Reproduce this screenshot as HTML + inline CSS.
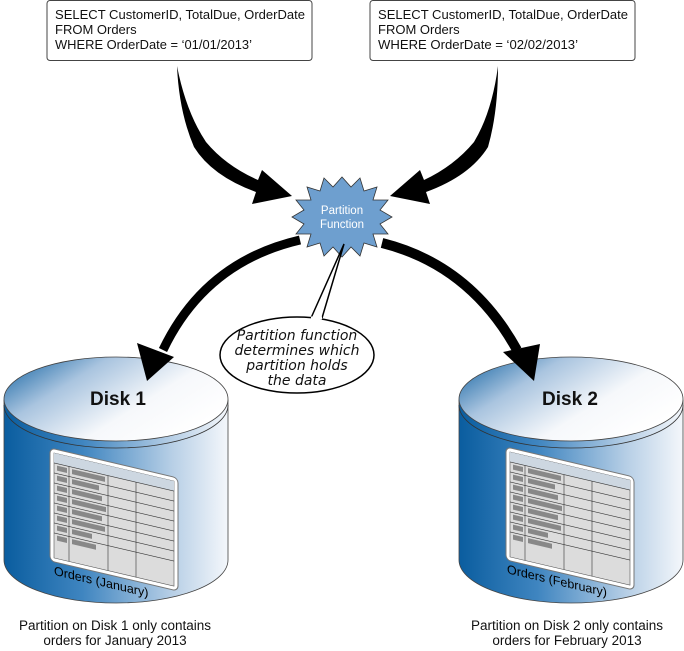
<!DOCTYPE html>
<html><head><meta charset="utf-8"><style>
html,body{margin:0;padding:0;background:#fff;}
svg{display:block;font-family:"Liberation Sans",sans-serif;}
</style></head><body>
<svg width="684" height="651" viewBox="0 0 684 651" xmlns="http://www.w3.org/2000/svg">
<defs>
<linearGradient id="body" x1="0" x2="1" y1="0" y2="0">
<stop offset="0" stop-color="#0a5d9f"/><stop offset="0.35" stop-color="#3f85c0"/><stop offset="0.75" stop-color="#b7cfe6"/><stop offset="1" stop-color="#f4f7fb"/>
</linearGradient>
<linearGradient id="top" x1="0" y1="0" x2="1" y2="0.6">
<stop offset="0" stop-color="#0b5e9f"/><stop offset="0.35" stop-color="#a9c4df"/><stop offset="0.7" stop-color="#f6f8fb"/><stop offset="1" stop-color="#ffffff"/>
</linearGradient>
<g id="table">
<rect x="0" y="0" width="128" height="113" rx="5" fill="#fff" stroke="#777" stroke-width="1"/>
<rect x="4" y="4" width="120" height="105" fill="#dcdcdc" stroke="#555" stroke-width="0.6"/>
<rect x="4" y="4" width="120" height="10" fill="#cdd7e1"/>
<g stroke="#333" stroke-width="0.6">
<line x1="4" y1="14" x2="124" y2="14"/>
<line x1="4" y1="24" x2="124" y2="24"/><line x1="4" y1="34" x2="124" y2="34"/>
<line x1="4" y1="44" x2="124" y2="44"/><line x1="4" y1="54" x2="124" y2="54"/>
<line x1="4" y1="64" x2="124" y2="64"/><line x1="4" y1="74" x2="124" y2="74"/>
<line x1="4" y1="84" x2="124" y2="84"/>
<line x1="19" y1="14" x2="19" y2="109"/><line x1="58" y1="14" x2="58" y2="109"/><line x1="86" y1="14" x2="86" y2="109"/>
</g>
<g fill="#888">
<rect x="7" y="16" width="10" height="5"/><rect x="22" y="16" width="33" height="5"/>
<rect x="7" y="26" width="10" height="5"/><rect x="22" y="26" width="27" height="5"/>
<rect x="7" y="36" width="10" height="5"/><rect x="22" y="36" width="30" height="5"/>
<rect x="7" y="46" width="10" height="5"/><rect x="22" y="46" width="34" height="5"/>
<rect x="7" y="56" width="10" height="5"/><rect x="22" y="56" width="30" height="5"/>
<rect x="7" y="66" width="10" height="5"/><rect x="22" y="66" width="33" height="5"/>
<rect x="7" y="76" width="10" height="5"/><rect x="22" y="76" width="20" height="5"/>
<rect x="7" y="86" width="10" height="5"/><rect x="22" y="86" width="24" height="5"/>
</g>
</g>
</defs>

<!-- query boxes -->
<rect x="47" y="0.5" width="265" height="60" rx="3" fill="#fff" stroke="#444"/>
<g font-size="13" fill="#111">
<text x="55" y="19" textLength="250" lengthAdjust="spacingAndGlyphs">SELECT CustomerID, TotalDue, OrderDate</text>
<text x="55" y="34">FROM Orders</text>
<text x="55" y="49" textLength="197" lengthAdjust="spacingAndGlyphs">WHERE OrderDate = ‘01/01/2013’</text>
</g>
<rect x="370" y="0.5" width="265" height="60" rx="3" fill="#fff" stroke="#444"/>
<g font-size="13" fill="#111">
<text x="378" y="19" textLength="250" lengthAdjust="spacingAndGlyphs">SELECT CustomerID, TotalDue, OrderDate</text>
<text x="378" y="34">FROM Orders</text>
<text x="378" y="49" textLength="200" lengthAdjust="spacingAndGlyphs">WHERE OrderDate = ‘02/02/2013’</text>
</g>

<!-- top arrows -->
<path d="M177,66 Q186,112 206,142 Q226,166 258,180 L262,170 L292,196 L252,204 L256,192 Q212,176 194,147 Q179,112 177,66 Z" fill="#000"/>
<path d="M498,66 Q492,112 474,142 Q454,166 424,180 L420,170 L390,196 L430,204 L426,192 Q470,176 488,147 Q498,112 498,66 Z" fill="#000"/>

<!-- bottom arrows -->
<path d="M300,240 Q205,262 163,350" fill="none" stroke="#000" stroke-width="9"/>
<path d="M382,243 Q470,265 517,350" fill="none" stroke="#000" stroke-width="10"/>

<!-- starburst -->
<polygon fill="#6e9fcf" stroke="#333" stroke-width="0.8" points="
392,217 380,224 388,234 373,234 377,247 364,243 360,256 351,247 342,257 333,247 324,256 320,243 307,247 311,234 296,234 304,224 292,217 304,210 296,200 311,200 307,187 320,191 324,178 333,187 342,177 351,187 360,178 364,191 377,187 373,200 388,200 380,210"/>
<text x="342" y="214" font-size="11.5" fill="#fff" text-anchor="middle">Partition</text>
<text x="342" y="228" font-size="11.5" fill="#fff" text-anchor="middle">Function</text>

<!-- callout -->
<ellipse cx="297" cy="355" rx="77" ry="38" fill="#fff" stroke="#000" stroke-width="1.5"/>
<path d="M311,318 L344,244 L322,318" fill="#fff" stroke="#000" stroke-width="1.5"/>
<line x1="311" y1="318" x2="322" y2="318" stroke="#fff" stroke-width="3"/>
<g font-family="'DejaVu Sans',sans-serif" font-style="italic" font-size="14" fill="#111" text-anchor="middle">
<text x="297" y="340">Partition function</text>
<text x="297" y="355">determines which</text>
<text x="297" y="370">partition holds</text>
<text x="297" y="385">the data</text>
</g>

<!-- Disk 1 -->
<path d="M4,400 L4,560 A112,43 0 0 0 228,560 L228,400 Z" fill="url(#body)" stroke="#444" stroke-width="0.8"/>
<path d="M4,405 A112,43 0 0 0 228,405" fill="none" stroke="#333" stroke-width="0.8"/>
<ellipse cx="116" cy="399" rx="112" ry="42" fill="url(#top)" stroke="#444" stroke-width="0.8"/>
<text x="118" y="405" font-size="19" font-weight="bold" text-anchor="middle" fill="#111">Disk 1</text>
<g transform="translate(50,448) skewY(13.2)"><use href="#table"/>
<text x="4" y="126" font-size="12.5" fill="#000">Orders (January)</text></g>

<!-- Disk 2 -->
<path d="M459,400 L459,560 A112,43 0 0 0 683,560 L683,400 Z" fill="url(#body)" stroke="#444" stroke-width="0.8"/>
<path d="M459,405 A112,43 0 0 0 683,405" fill="none" stroke="#333" stroke-width="0.8"/>
<ellipse cx="571" cy="399" rx="112" ry="42" fill="url(#top)" stroke="#444" stroke-width="0.8"/>
<text x="570" y="405" font-size="19" font-weight="bold" text-anchor="middle" fill="#111">Disk 2</text>
<g transform="translate(506,447) skewY(13.2)"><use href="#table"/>
<text x="1" y="126" font-size="12.5" fill="#000">Orders (February)</text></g>

<polygon points="137,343 174,357 147,381" fill="#000"/>
<polygon points="503,352 540,344 534,381" fill="#000"/>

<!-- captions -->
<g font-size="13.5" fill="#111" text-anchor="middle">
<text x="115" y="630">Partition on Disk 1 only contains</text>
<text x="115" y="645">orders for January 2013</text>
<text x="567" y="630">Partition on Disk 2 only contains</text>
<text x="567" y="645">orders for February 2013</text>
</g>
</svg>
</body></html>
